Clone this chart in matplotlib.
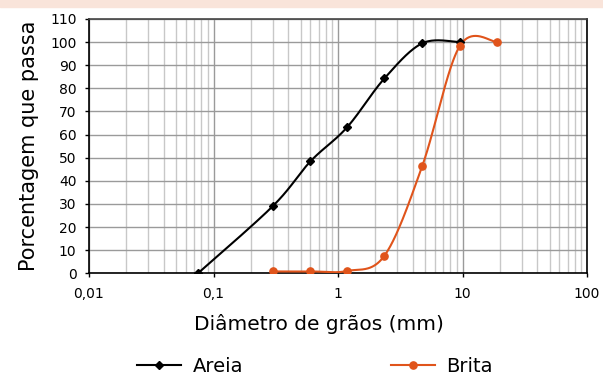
import numpy as np
import matplotlib
matplotlib.use("Agg")
import matplotlib.pyplot as plt
from matplotlib.patches import Rectangle
from matplotlib.lines import Line2D
from matplotlib.ticker import FixedLocator, LogLocator, NullFormatter

# sieve openings (mm) and percent passing
areia_x = [0.075, 0.3, 0.6, 1.18, 2.36, 4.75, 9.5]
areia_y = [0.0, 29.1, 48.4, 63.1, 84.3, 99.5, 100.0]
brita_x = [0.3, 0.6, 1.18, 2.36, 4.75, 9.5, 19.0]
brita_y = [0.8, 0.8, 1.0, 7.6, 46.4, 98.3, 100.0]

x_ticks = [0.01, 0.1, 1, 10, 100]
x_tick_labels = ["0,01", "0,1", "1", "10", "100"]
y_ticks = list(range(0, 111, 10))

ORANGE = "#E0541B"
plt.rcParams["font.family"] = ["DejaVu Sans"]


def smooth(xs, ys, sx=124.5, sy=2.32, n=40):
    """Excel-like smoothed line: cubic Bezier through the points, in screen-ish units."""
    p = np.column_stack([np.log10(xs) * sx, np.asarray(ys) * sy])
    ext = np.vstack([p[0], p, p[-1]])
    out = []
    t = np.linspace(0, 1, n)[:, None]
    for i in range(len(p) - 1):
        p0, p1, p2, p3 = ext[i], ext[i + 1], ext[i + 2], ext[i + 3]
        c1 = p1 + (p2 - p0) / 6
        c2 = p2 - (p3 - p1) / 6
        seg = ((1 - t) ** 3) * p1 + 3 * ((1 - t) ** 2) * t * c1 + 3 * (1 - t) * t ** 2 * c2 + t ** 3 * p2
        out.append(seg if i == 0 else seg[1:])
    out = np.vstack(out)
    return 10 ** (out[:, 0] / sx), out[:, 1] / sy


fig = plt.figure(figsize=(6.03, 3.76), dpi=100)
fig.patches.append(Rectangle((0, 1 - 7 / 376), 1, 7 / 376, transform=fig.transFigure,
                             color="#F9E4DA", zorder=0))
ax = fig.add_axes([89 / 603, 1 - 273.3 / 376, (587 - 89) / 603, (273.3 - 19) / 376])

ax.set_xscale("log")
ax.set_xlim(0.01, 100)
ax.set_ylim(0, 110)

ax.xaxis.set_major_locator(FixedLocator(x_ticks))
ax.set_xticklabels(x_tick_labels)
ax.xaxis.set_minor_locator(LogLocator(base=10, subs=np.arange(2, 10)))
ax.xaxis.set_minor_formatter(NullFormatter())
ax.set_yticks(y_ticks)

ax.grid(which="major", color="#9a9a9a", linewidth=1)
ax.grid(which="minor", axis="x", color="#c8c8c8", linewidth=1)
ax.set_axisbelow(True)

ax.tick_params(axis="both", which="major", direction="out", length=3, width=1,
               labelsize=10, colors="black", pad=6)
ax.tick_params(axis="x", which="minor", length=0)
ax.tick_params(axis="x", pad=7)

for side in ["left", "bottom", "right"]:
    ax.spines[side].set_color("black")
    ax.spines[side].set_linewidth(1.2)
ax.spines["top"].set_color("#444444")
ax.spines["top"].set_linewidth(1.2)

sx, sy = smooth(areia_x, areia_y)
ax.plot(sx, sy, color="black", linewidth=1.5, zorder=3)
ax.plot(areia_x, areia_y, linestyle="none", marker="D", markersize=4, color="black", zorder=4)

sx, sy = smooth(brita_x, brita_y)
ax.plot(sx, sy, color=ORANGE, linewidth=1.5, zorder=3)
ax.plot(brita_x, brita_y, linestyle="none", marker="o", markersize=5.2, color=ORANGE, zorder=4)

ax.set_xlabel("Diâmetro de grãos (mm)", fontsize=14.5)
ax.xaxis.set_label_coords(0.462, -0.16)
ax.set_ylabel("Porcentagem que passa", fontsize=15)
ax.yaxis.set_label_coords(-0.10, 0.5)

handles = [
    Line2D([], [], color="black", linewidth=1.5, marker="D", markersize=4),
    Line2D([], [], color=ORANGE, linewidth=1.5, marker="o", markersize=5.2),
]
fig.legend(handles, ["Areia", "Brita"], loc="center", bbox_to_anchor=(0.522, 1 - 366 / 376),
           ncol=2, frameon=False, fontsize=14, handlelength=2.3, handletextpad=0.57,
           columnspacing=7.6)

fig.savefig("out.png", dpi=100)
